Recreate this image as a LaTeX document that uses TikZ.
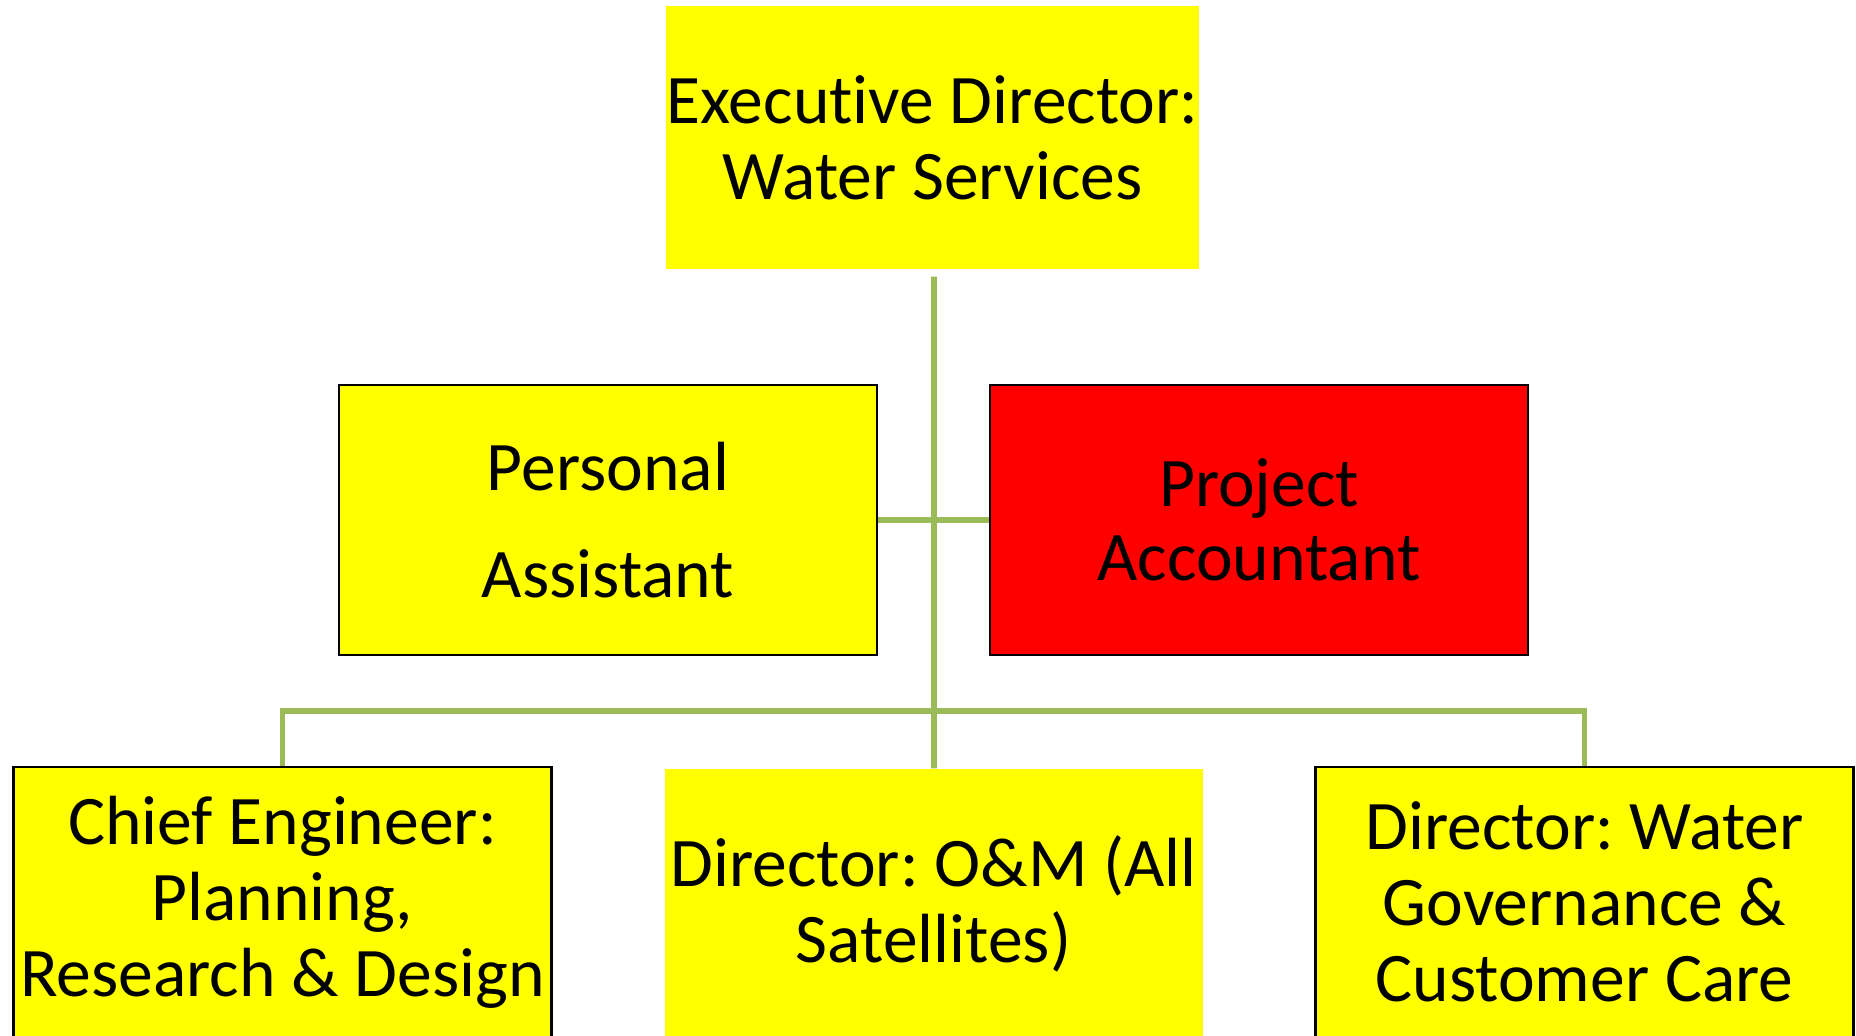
\documentclass[tikz,border=0pt]{standalone}
\usepackage{fontspec}
\setmainfont{Carlito}[Ligatures={NoCommon}]
\frenchspacing
\definecolor{linkgreen}{HTML}{9BBB59}
\definecolor{postyellow}{HTML}{FFFF00}
\definecolor{postred}{HTML}{FF0000}
\tikzset{
  post/.style={fill=postyellow, minimum width=5.38cm, minimum height=2.7cm,
    inner sep=0pt, align=center, font=\fontsize{19.8}{21.6}\selectfont},
  framed/.style={draw=black, line width=0.8pt},
  link/.style={draw=linkgreen, line width=1.6pt},
}
\begin{document}
\begin{tikzpicture}
  \useasboundingbox (0,0) rectangle (18.56,-10.35);
  \clip (0,0) rectangle (18.56,-10.35);
  \node[post, minimum width=5.33cm, minimum height=2.63cm] (ed) at (9.325,-1.375) {Executive Director:\\Water Services};
  \node[post, framed] (pa) at (6.08,-5.20) {Personal\\[9pt]Assistant};
  \node[post, framed, fill=postred] (pm) at (12.59,-5.20) {Project\\[-0.5pt]Accountant};
  \node[post, framed] (ce) at (2.825,-9.02) {Chief Engineer:\\Planning,\\Research \& Design};
  \node[post] (om) at (9.335,-9.04) {Director: O\&M (All\\Satellites)};
  \node[post, framed] (wg) at (15.845,-9.02) {Director: Water\\Governance \&\\Customer Care};
  \coordinate (bus) at (9.34,-7.11);
  \begin{scope}[link]
    \draw ([xshift=0.015cm,yshift=-0.07cm]ed.south) -- ([xshift=0.005cm]om.north);
    \draw (pa.east) -- (pm.west);
    \draw (ce.north) |- (bus) -| (wg.north);
  \end{scope}
\end{tikzpicture}
\end{document}
